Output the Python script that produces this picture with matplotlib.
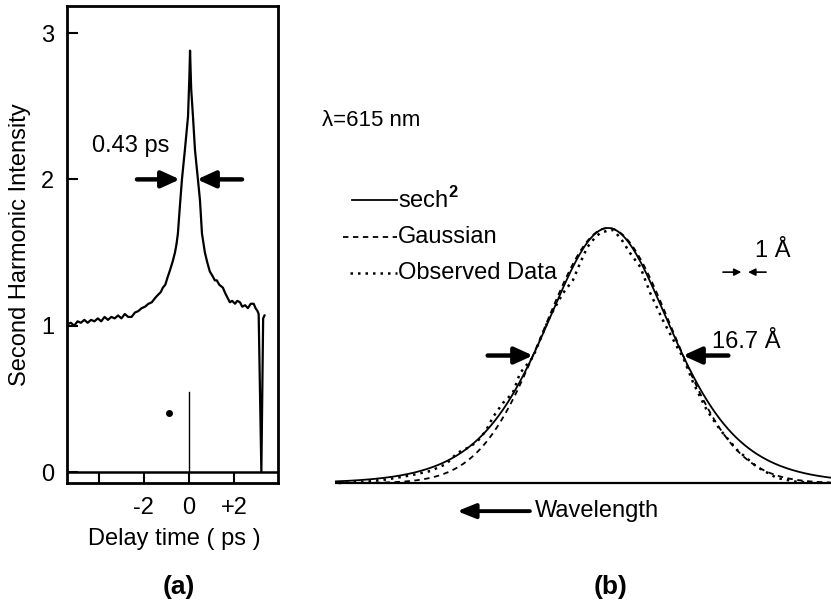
import numpy as np
import matplotlib
matplotlib.use("Agg")
import matplotlib.pyplot as plt

plt.rcParams['font.family'] = ['Liberation Sans Narrow', 'Liberation Sans', 'DejaVu Sans']
plt.rcParams['mathtext.fontset'] = 'custom'
plt.rcParams['mathtext.rm'] = 'Liberation Sans'
plt.rcParams['mathtext.bf'] = 'Liberation Sans:bold'

# ---- (a) second-harmonic autocorrelation trace ----
delay_ps = [-5.40, -5.25, -5.10, -4.95, -4.80, -4.65, -4.50, -4.35, -4.20, -4.05,
            -3.90, -3.75, -3.60, -3.45, -3.30, -3.15, -3.00, -2.85, -2.70, -2.55,
            -2.40, -2.25, -2.10, -1.95, -1.80, -1.65, -1.50, -1.38, -1.25, -1.16,
            -1.05, -0.95, -0.84, -0.72, -0.62, -0.55, -0.49, -0.40, -0.31, -0.18,
            -0.04, 0.02, 0.05, 0.10, 0.18, 0.27, 0.40, 0.49, 0.58, 0.71,
            0.82, 0.93, 1.05, 1.15, 1.24, 1.35, 1.51, 1.62, 1.72, 1.82,
            1.92, 2.05, 2.15, 2.27, 2.37, 2.50, 2.62, 2.75, 2.88, 2.96,
            3.05, 3.10, 3.22, 3.30, 3.36]
shg_intensity = [1.01, 1.02, 1.00, 1.03, 1.02, 1.04, 1.02, 1.04, 1.03, 1.05,
                 1.03, 1.06, 1.04, 1.06, 1.05, 1.07, 1.05, 1.08, 1.06, 1.06,
                 1.09, 1.10, 1.12, 1.13, 1.15, 1.16, 1.19, 1.21, 1.23, 1.26,
                 1.28, 1.33, 1.38, 1.44, 1.50, 1.56, 1.63, 1.82, 2.00, 2.20,
                 2.43, 2.70, 2.88, 2.62, 2.43, 2.20, 2.00, 1.86, 1.63, 1.50,
                 1.43, 1.37, 1.34, 1.31, 1.31, 1.28, 1.26, 1.22, 1.19, 1.16,
                 1.17, 1.15, 1.17, 1.16, 1.13, 1.14, 1.12, 1.15, 1.15, 1.12,
                 1.10, 1.08, 0.00, 1.05, 1.07]
x_ticks_a = [-4, -2, 0, 2]
x_ticklabels_a = ['', '-2', '0', '+2']
y_ticks_a = [0, 1, 2, 3]
y_ticklabels_a = ['0', '1', '2', '3']
fwhm_a_level = 2.0
fwhm_a_left = (-2.31, -0.40)
fwhm_a_right = (2.36, 0.36)
marker_line = (0.0, 0.55)
marker_dot = (-0.88, 0.40)

# ---- (b) spectrum ----
fwhm_b = 16.7          # Angstrom, stated on the chart
obs_wl = [-30.0, -27.0, -24.5, -22.0, -19.8, -18.0, -16.8, -15.5, -14.6, -13.6,
          -12.8, -11.7, -10.6, -9.8, -8.35, -7.4, -6.5, -5.0, -3.9, -3.1,
          -2.3, -1.5, -0.9, 0.0, 0.6, 1.5, 2.45, 3.6, 4.7, 6.1,
          7.7, 8.35, 9.5, 11.0, 12.5, 14.4, 16.6, 18.8, 21.0, 24.0]
obs_int = [0.0, 0.005, 0.015, 0.030, 0.047, 0.075, 0.118, 0.140, 0.161, 0.205,
           0.259, 0.314, 0.353, 0.431, 0.494, 0.575, 0.651, 0.745, 0.796, 0.863,
           0.925, 0.960, 0.980, 0.990, 0.992, 0.955, 0.902, 0.847, 0.745, 0.639,
           0.533, 0.494, 0.392, 0.286, 0.208, 0.129, 0.063, 0.020, 0.005, 0.0]

FS = 17
W, H = 831, 609
fig = plt.figure(figsize=(W / 100, H / 100), dpi=100)

# panel (a)
axa = fig.add_axes([67 / W, 1 - 483 / H, 211 / W, 477 / H])
axa.plot(delay_ps, shg_intensity, color='black', lw=1.6, solid_joinstyle='round')
axa.set_xlim(-5.42, 3.96)
axa.set_ylim(-0.075, 3.185)
axa.axhline(0, color='black', lw=1.8)
axa.plot([marker_line[0]] * 2, [0, marker_line[1]], color='black', lw=1.0)
axa.plot([marker_dot[0]], [marker_dot[1]], 'o', color='black', ms=4)
for s in axa.spines.values():
    s.set_linewidth(2)
axa.set_xticks(x_ticks_a)
axa.set_xticklabels(x_ticklabels_a)
axa.set_yticks(y_ticks_a)
axa.set_yticklabels(y_ticklabels_a)
axa.tick_params(axis='both', direction='in', length=8, width=1.5, labelsize=FS)
axa.tick_params(axis='x', pad=10)
axa.tick_params(axis='y', pad=9)
axa.set_ylabel('Second Harmonic Intensity', fontsize=FS)
axa.yaxis.set_label_coords(-0.17, 0.5)
axa.set_xlabel('Delay time ( ps )', fontsize=FS)
axa.xaxis.set_label_coords(0.507, -0.095)

arrow_big = dict(arrowstyle='-|>,head_length=0.55,head_width=0.25', lw=3.2,
                 color='black', mutation_scale=20, shrinkA=0, shrinkB=0)
axa.annotate('', xy=(fwhm_a_left[1], fwhm_a_level), xytext=(fwhm_a_left[0], fwhm_a_level),
             arrowprops=arrow_big)
axa.annotate('', xy=(fwhm_a_right[1], fwhm_a_level), xytext=(fwhm_a_right[0], fwhm_a_level),
             arrowprops=arrow_big)
axa.text(-2.6, 2.23, '0.43 ps', fontsize=FS, ha='center', va='center')

# panel (b)
axb = fig.add_axes([335 / W, 1 - 530 / H, 496 / W, 440 / H])
axb.set_xlim(-30.4, 24.83)
axb.set_ylim(-0.184, 1.541)
axb.axis('off')
wl = np.linspace(-30.4, 24.83, 600)
sech2 = 1 / np.cosh(1.7627 * wl / fwhm_b) ** 2
gauss = np.exp(-4 * np.log(2) * (wl / fwhm_b) ** 2)
axb.plot(wl, sech2, color='black', lw=1.3)
axb.plot(wl, gauss, color='black', lw=1.3, ls=(0, (3, 2.5)))
axb.plot(obs_wl, obs_int, color='black', lw=1.8, ls=(0, (1, 2)))
axb.axhline(0, color='black', lw=1.6)

axb.annotate('', xy=(-fwhm_b / 2, 0.5), xytext=(-13.4, 0.5), arrowprops=arrow_big)
axb.annotate('', xy=(fwhm_b / 2, 0.5), xytext=(13.4, 0.5), arrowprops=arrow_big)
axb.text(15.4, 0.53, '16.7 Å', fontsize=FS, ha='center', va='baseline')

arrow_small = dict(arrowstyle='-|>,head_length=0.6,head_width=0.3', lw=1.2,
                   color='black', mutation_scale=7, shrinkA=0, shrinkB=0)
axb.annotate('', xy=(14.85, 0.827), xytext=(12.8, 0.827), arrowprops=arrow_small)
axb.annotate('', xy=(15.6, 0.827), xytext=(17.6, 0.827), arrowprops=arrow_small)
axb.text(18.3, 0.91, '1 Å', fontsize=FS, ha='center', va='center')

# legend drawn by hand
axb.plot([-28.5, -23.5], [1.11, 1.11], color='black', lw=1.3, clip_on=False)
axb.plot([-29.5, -23.5], [0.965, 0.965], color='black', lw=1.3, ls=(0, (3, 2.5)), clip_on=False)
axb.plot([-28.7, -23.5], [0.824, 0.824], color='black', lw=1.8, ls=(0, (1, 2)), clip_on=False)
axb.text(-23.4, 1.11, r'sech$^{\mathbf{2}}$', fontsize=FS, ha='left', va='center')
axb.text(-23.4, 0.965, 'Gaussian', fontsize=FS, ha='left', va='center')
axb.text(-23.4, 0.824, 'Observed Data', fontsize=FS, ha='left', va='center')

axb.annotate('', xy=(-16.8, -0.11), xytext=(-8.7, -0.11),
             arrowprops=dict(arrowstyle='-|>,head_length=0.55,head_width=0.22', lw=2.8,
                             color='black', mutation_scale=20, shrinkA=0, shrinkB=0))
axb.text(-8.1, -0.11, 'Wavelength', fontsize=FS, ha='left', va='center')

fig.text(322 / W, 1 - 120 / H, 'λ=615 nm', fontsize=FS - 1, ha='left', va='center')
fig.text(179 / W, 1 - 587 / H, '(a)', fontsize=19, fontweight='bold', ha='center', va='center')
fig.text(611 / W, 1 - 587 / H, '(b)', fontsize=19, fontweight='bold', ha='center', va='center')

fig.savefig('out.png', dpi=100)
